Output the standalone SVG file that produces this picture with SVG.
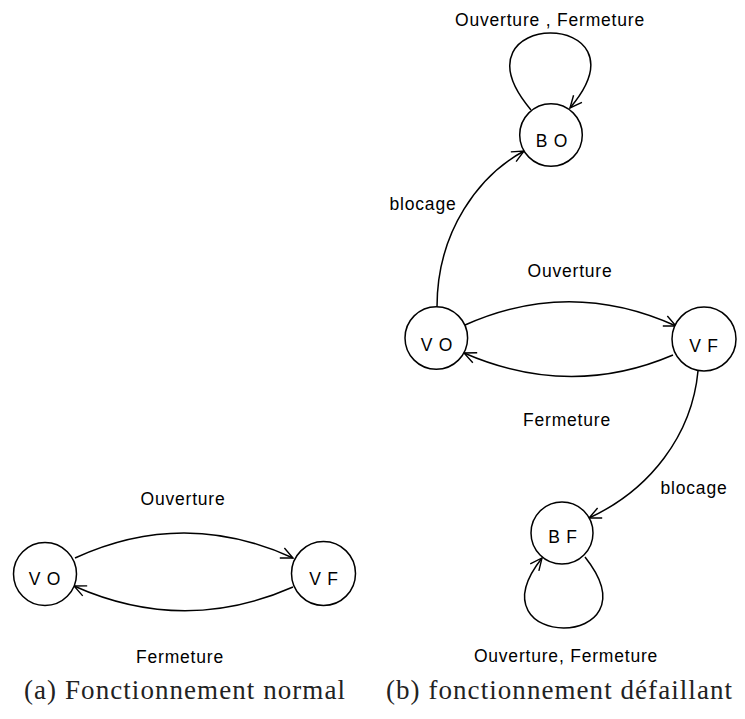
<svg xmlns="http://www.w3.org/2000/svg" width="745" height="719" viewBox="0 0 745 719">
<style>
.node circle{fill:#fff;stroke:#000;stroke-width:1.5}
.lbl{font-family:"Liberation Sans",Arial,sans-serif;font-size:17.5px;letter-spacing:0.8px;fill:#000;text-anchor:middle}
.edge{fill:none;stroke:#000;stroke-width:1.5;marker-end:url(#arr)}
.cap{font-family:"Liberation Serif","Times New Roman",serif;font-size:27px;fill:#222}
</style>
<defs>
<marker id="arr" markerUnits="userSpaceOnUse" markerWidth="30" markerHeight="30" refX="0" refY="0" viewBox="-15 -15 30 30" orient="auto" overflow="visible">
<path d="M-12,-5.5 L0,0 L-12,5.5" fill="none" stroke="#000" stroke-width="1.4"/>
</marker>
</defs>
<g id="connectors">
<path class="edge" d="M75,558 Q184,508 293,558"/>
<path class="edge" d="M293,587 Q184,635 74,586"/>
<path class="edge" d="M465,325 Q570,278 676,326"/>
<path class="edge" d="M673,355 Q570,399 464,353"/>
<path class="edge" d="M437,307 C437,230 480,175 524,151"/>
<path class="edge" d="M698,371 C692,435 650,490 589,518"/>
<path class="edge" d="M531,110 C445,7.7 655,7.7 570,108"/>
<path class="edge" d="M585,557 C660,651.5 468,651.5 542,558"/>
</g>
<g id="edge-labels">
<text class="lbl" x="183" y="505">Ouverture</text>
<text class="lbl" x="180" y="663">Fermeture</text>
<text class="lbl" x="570" y="277">Ouverture</text>
<text class="lbl" x="567" y="426">Fermeture</text>
<text class="lbl" x="423" y="210">blocage</text>
<text class="lbl" x="694" y="494">blocage</text>
<text class="lbl" x="550" y="26">Ouverture , Fermeture</text>
<text class="lbl" x="566" y="662">Ouverture, Fermeture</text>
</g>
<g id="a-VO" class="node"><circle cx="45" cy="574" r="31.5"/><text class="lbl" x="45" y="585">V O</text></g>
<g id="a-VF" class="node"><circle cx="323.5" cy="573.5" r="32"/><text class="lbl" x="324" y="585">V F</text></g>
<g id="b-BO" class="node"><circle cx="551" cy="135" r="31.3"/><text class="lbl" x="552" y="147">B O</text></g>
<g id="b-VO" class="node"><circle cx="436.3" cy="338" r="31.3"/><text class="lbl" x="437" y="351">V O</text></g>
<g id="b-VF" class="node"><circle cx="704" cy="339" r="32"/><text class="lbl" x="704" y="352">V F</text></g>
<g id="b-BF" class="node"><circle cx="562" cy="533" r="31"/><text class="lbl" x="563" y="543">B F</text></g>
<g id="captions">
<text class="cap" x="24" y="699" textLength="321" lengthAdjust="spacing">(a) Fonctionnement normal</text>
<text class="cap" x="386" y="699" textLength="346" lengthAdjust="spacing">(b) fonctionnement défaillant</text>
</g>
</svg>
